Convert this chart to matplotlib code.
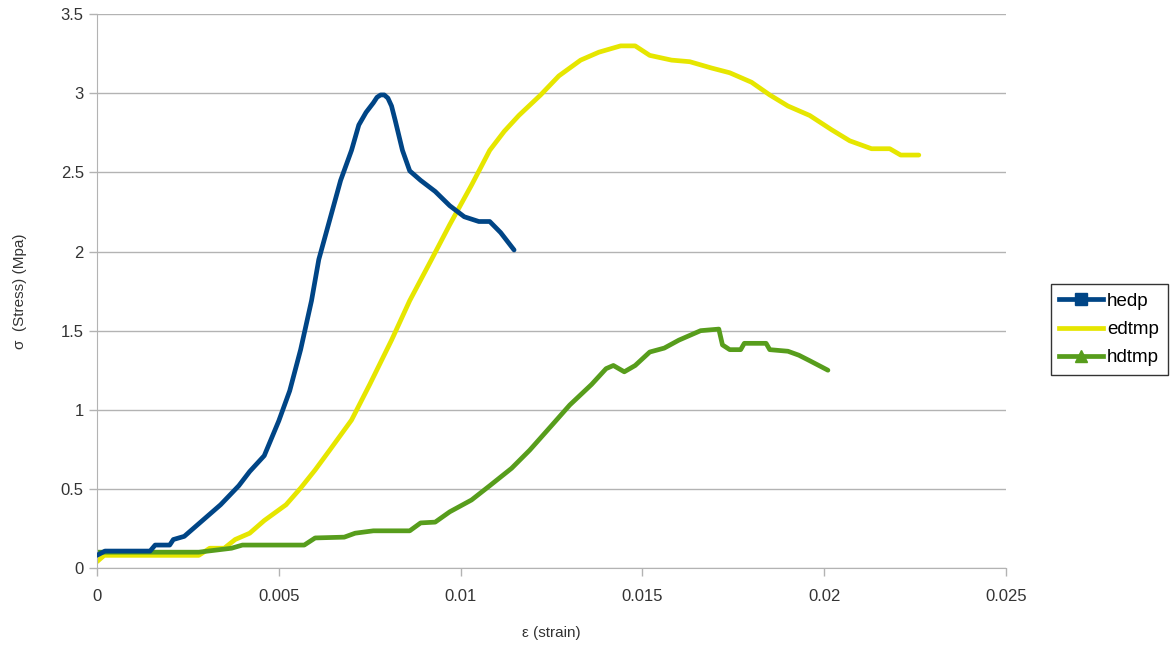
import numpy as np
import matplotlib.pyplot as plt
from matplotlib.lines import Line2D

plt.rcParams['font.family'] = ['Liberation Sans', 'DejaVu Sans']

# hedp
hedp_x = [0, 0.00022, 0.00146, 0.0016, 0.002, 0.0021, 0.0024, 0.0028, 0.0034, 0.0039, 0.0042,
          0.0046, 0.005, 0.0053, 0.0056, 0.0059, 0.0061, 0.0064, 0.0067, 0.007, 0.0072,
          0.0074, 0.0076, 0.0077, 0.0078, 0.0079, 0.008, 0.0081, 0.0082, 0.0084, 0.0086,
          0.0089, 0.0093, 0.0097, 0.0101, 0.0105, 0.0108, 0.0111, 0.01147]
hedp_y = [0.08, 0.107, 0.107, 0.145, 0.145, 0.18, 0.20, 0.28, 0.40, 0.52, 0.61,
          0.71, 0.93, 1.12, 1.38, 1.69, 1.95, 2.20, 2.45, 2.64, 2.80,
          2.88, 2.94, 2.975, 2.99, 2.99, 2.97, 2.92, 2.83, 2.64, 2.51,
          2.45, 2.38, 2.29, 2.22, 2.19, 2.19, 2.12, 2.01]

# edtmp
edtmp_x = [0, 0.0002, 0.0028, 0.0031, 0.0035, 0.0038, 0.0042, 0.0046, 0.0052, 0.0056, 0.006,
           0.0064, 0.007, 0.0075, 0.0081, 0.0086, 0.0092, 0.0097, 0.0103, 0.0108, 0.0112,
           0.0116, 0.0122, 0.0127, 0.0133, 0.0138, 0.0144, 0.0148, 0.0152, 0.0158, 0.0163,
           0.0169, 0.0174, 0.018, 0.0185, 0.019, 0.0196, 0.0202, 0.0207, 0.0213, 0.0218,
           0.0221, 0.0226]
edtmp_y = [0.04, 0.08, 0.08, 0.125, 0.125, 0.18, 0.22, 0.30, 0.40, 0.505, 0.62,
           0.745, 0.935, 1.16, 1.44, 1.69, 1.95, 2.17, 2.42, 2.64, 2.76,
           2.86, 2.99, 3.11, 3.21, 3.26, 3.30, 3.30, 3.24, 3.21, 3.20,
           3.16, 3.13, 3.07, 2.99, 2.92, 2.86, 2.77, 2.70, 2.65, 2.65,
           2.61, 2.61]

# hdtmp
hdtmp_x = [0, 0.0028, 0.0037, 0.004, 0.0057, 0.006, 0.0068, 0.0071, 0.0076, 0.0086, 0.0089,
           0.0093, 0.0097, 0.0103, 0.0108, 0.0114, 0.0119, 0.0125, 0.013, 0.0136, 0.014,
           0.0142, 0.0145, 0.0148, 0.0152, 0.0156, 0.016, 0.0166, 0.0171, 0.0172, 0.0174,
           0.0177, 0.0178, 0.0184, 0.0185, 0.019, 0.0193, 0.0196, 0.0201]
hdtmp_y = [0.10, 0.10, 0.125, 0.145, 0.145, 0.19, 0.195, 0.22, 0.235, 0.235, 0.285,
           0.29, 0.355, 0.43, 0.52, 0.63, 0.745, 0.90, 1.03, 1.16, 1.26,
           1.28, 1.24, 1.28, 1.365, 1.39, 1.44, 1.50, 1.51, 1.41, 1.38,
           1.38, 1.42, 1.42, 1.38, 1.37, 1.345, 1.31, 1.25]

c_blue, c_yellow, c_green = '#004586', '#e6e600', '#579d1c'

fig = plt.figure(figsize=(11.74, 6.47), dpi=100)
ax = fig.add_axes([0.0826, 0.1221, 0.857 - 0.0826, 0.978 - 0.1221])

ax.plot(hedp_x, hedp_y, color=c_blue, lw=3.4, solid_capstyle='round', solid_joinstyle='round', zorder=3)
ax.plot(edtmp_x, edtmp_y, color=c_yellow, lw=3.4, solid_capstyle='round', solid_joinstyle='round', zorder=2)
ax.plot(hdtmp_x, hdtmp_y, color=c_green, lw=3.4, solid_capstyle='round', solid_joinstyle='round', zorder=2)

ax.set_xlim(0, 0.025)
ax.set_ylim(0, 3.5)
ax.set_xticks(np.arange(0, 0.0251, 0.005))
ax.set_xticklabels(['0', '0.005', '0.01', '0.015', '0.02', '0.025'])
ax.set_yticks(np.arange(0, 3.51, 0.5))
ax.set_yticklabels(['0', '0.5', '1', '1.5', '2', '2.5', '3', '3.5'])
ax.grid(axis='y', color='#b3b3b3', lw=1)
ax.set_axisbelow(True)
for s in ['top', 'right']:
    ax.spines[s].set_visible(False)
for s in ['left', 'bottom']:
    ax.spines[s].set_color('#b3b3b3')
ax.tick_params(colors='#b3b3b3', labelcolor='#333333', labelsize=12, length=6, width=1)
ax.tick_params(axis='x', pad=9)

ax.set_xlabel('ε (strain)', fontsize=11, color='#333333', labelpad=16)
ax.set_ylabel('σ  (Stress) (Mpa)', fontsize=11, color='#333333', labelpad=24)

handles = [Line2D([], [], color=c_blue, lw=3.4, marker='s', markersize=9),
           Line2D([], [], color=c_yellow, lw=3.4),
           Line2D([], [], color=c_green, lw=3.4, marker='^', markersize=9)]
leg = fig.legend(handles, ['hedp', 'edtmp', 'hdtmp'], loc='center left',
                 bbox_to_anchor=(0.8952, 0.4907), borderaxespad=0, fontsize=13.5,
                 frameon=True, fancybox=False, edgecolor='black', handlelength=2.3,
                 borderpad=0.45, labelspacing=0.6, handletextpad=0.25)
leg.get_frame().set_linewidth(1)

fig.savefig('out.png', dpi=100)
